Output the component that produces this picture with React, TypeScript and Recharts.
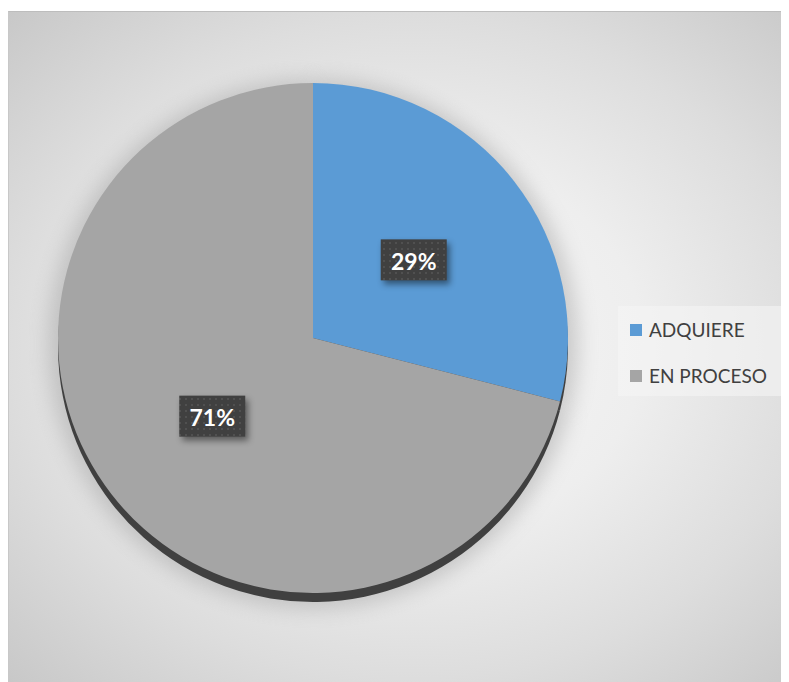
import React from "react"
import { PieChart, Pie, Cell, Legend } from "recharts"

const categories = ["ADQUIERE", "EN PROCESO"]
const values = [29, 71]
const labels = ["29%", "71%"]

const COLORS = ["#5b9bd5", "#a5a5a5"]

const data = categories.map((name, i) => ({ name, value: values[i], label: labels[i] }))

const RADIAN = Math.PI / 180

const renderLabel = (props: any) => {
  const { cx, cy, midAngle, outerRadius, index } = props
  const r = outerRadius * 0.5
  const x = cx + r * Math.cos(-midAngle * RADIAN)
  const y = cy + r * Math.sin(-midAngle * RADIAN)
  const w = 66
  const h = 41
  return (
    <g key={`lbl-${index}`}>
      <defs>
        <pattern id={`dots-${index}`} width="6" height="6" patternUnits="userSpaceOnUse">
          <rect width="6" height="6" fill="#404040" />
          <circle cx="3" cy="3" r="1" fill="#555555" />
        </pattern>
      </defs>
      <rect
        x={x - w / 2}
        y={y - h / 2}
        width={w}
        height={h}
        fill={`url(#dots-${index})`}
        style={{ filter: "drop-shadow(3px 4px 3px rgba(0,0,0,0.45))" }}
      />
      <text
        x={x}
        y={y + 1}
        textAnchor="middle"
        dominantBaseline="central"
        fill="#ffffff"
        fontFamily="Lato, 'Open Sans', sans-serif"
        fontWeight={700}
        fontSize={23}
      >
        {data[index].label}
      </text>
    </g>
  )
}

const renderLegend = () => (
  <div
    style={{
      width: 168,
      height: 90,
      background: "rgba(245,245,245,0.6)",
      fontFamily: "Lato, 'Open Sans', sans-serif",
      fontSize: 19,
      color: "#404040",
      boxSizing: "border-box",
      paddingTop: 12,
      paddingLeft: 12,
    }}
  >
    {data.map((d, i) => (
      <div key={d.name} style={{ display: "flex", alignItems: "center", height: 23, marginBottom: i === 0 ? 23 : 0 }}>
        <span style={{ display: "inline-block", width: 12, height: 12, background: COLORS[i], marginRight: 7 }} />
        <span>{d.name}</span>
      </div>
    ))}
  </div>
)

export default function App() {
  const cx = 304
  const cy = 326
  const r = 255
  return (
    <div
      style={{
        marginTop: 3,
        width: 781,
        height: 671,
        borderTop: "1px solid #bdbdbd",
        borderLeft: "1px solid #c8c8c8",
        boxSizing: "border-box",
        background:
          "radial-gradient(farthest-corner at 52% 50%, #f7f7f7 0%, #eeeeee 40%, #dddddd 70%, #c8c8c8 100%)",
      }}
    >
      <PieChart width={780} height={670} margin={{ top: 0, right: 0, bottom: 0, left: 0 }}>
        <Pie
          data={data}
          dataKey="value"
          cx={cx}
          cy={cy + 6}
          outerRadius={r + 10}
          startAngle={90}
          endAngle={-270}
          stroke="none"
          isAnimationActive={false}
          legendType="none"
        >
          {data.map((d, i) => (
            <Cell key={`glow-${i}`} fill="#9a9a9a" style={{ filter: "blur(10px)", opacity: 0.45 }} />
          ))}
        </Pie>
        <Pie
          data={data}
          dataKey="value"
          cx={cx}
          cy={cy + 9}
          outerRadius={r}
          startAngle={90}
          endAngle={-270}
          stroke="none"
          isAnimationActive={false}
          legendType="none"
        >
          {data.map((d, i) => (
            <Cell key={`sh-${i}`} fill="#404040" />
          ))}
        </Pie>
        <Pie
          data={data}
          dataKey="value"
          cx={cx}
          cy={cy}
          outerRadius={r}
          startAngle={90}
          endAngle={-270}
          stroke="none"
          isAnimationActive={false}
          label={renderLabel}
          labelLine={false}
        >
          {data.map((d, i) => (
            <Cell key={`cell-${i}`} fill={COLORS[i]} />
          ))}
        </Pie>
        <Legend
          content={renderLegend}
          wrapperStyle={{ position: "absolute", left: 609, top: 294, width: 168, height: 90 }}
        />
      </PieChart>
    </div>
  )
}
